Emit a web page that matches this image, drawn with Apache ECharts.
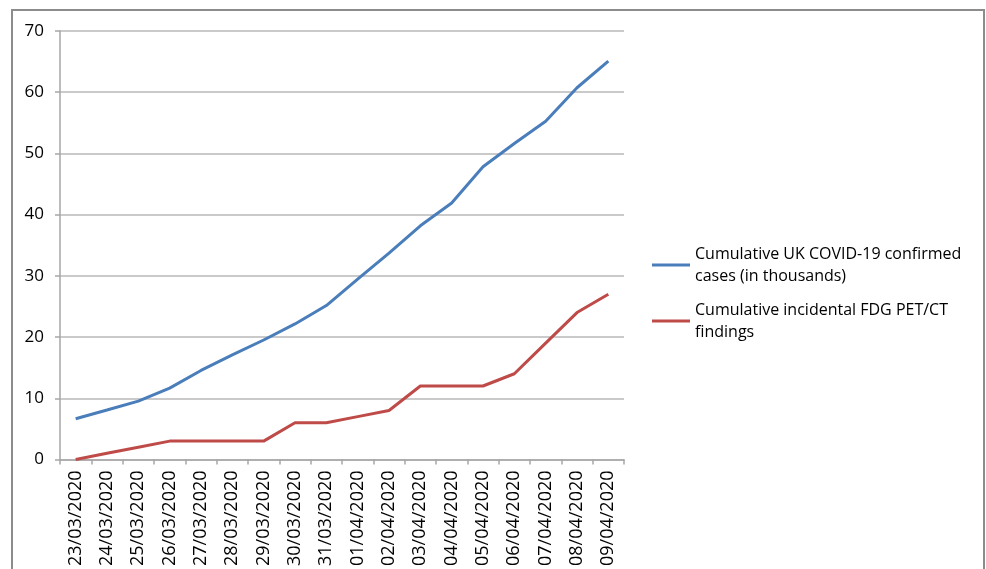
<!DOCTYPE html>
<html>
<head>
<meta charset="utf-8">
<title>UK COVID-19 cases vs incidental FDG PET/CT findings</title>
<script src="https://cdn.jsdelivr.net/npm/echarts@6/dist/echarts.min.js"></script>
<style>
  html, body { margin: 0; padding: 0; background: #ffffff; }
  #chart { width: 986px; height: 569px; }
</style>
</head>
<body>
<div id="chart"></div>
<script>
// Dates of the reporting period
var dates = [
  '23/03/2020', '24/03/2020', '25/03/2020', '26/03/2020', '27/03/2020', '28/03/2020',
  '29/03/2020', '30/03/2020', '31/03/2020', '01/04/2020', '02/04/2020', '03/04/2020',
  '04/04/2020', '05/04/2020', '06/04/2020', '07/04/2020', '08/04/2020', '09/04/2020'
];

// Cumulative UK confirmed cases, in thousands
var ukCases = [6.65, 8.08, 9.53, 11.66, 14.54, 17.09, 19.52, 22.14, 25.15,
               29.47, 33.72, 38.17, 41.90, 47.81, 51.61, 55.24, 60.73, 65.08];

// Cumulative incidental FDG PET/CT findings
var petFindings = [0, 1, 2, 3, 3, 3, 3, 6, 6, 7, 8, 12, 12, 12, 14, 19, 24, 27];

var seriesNames = [
  'Cumulative UK COVID-19 confirmed\ncases (in thousands)',
  'Cumulative incidental FDG PET/CT\nfindings'
];

var FONT = '"Open Sans", "Noto Sans", sans-serif';
var AXIS_GRAY = '#a6a6a6';

var chart = echarts.init(document.getElementById('chart'), null, { renderer: 'canvas' });

chart.setOption({
  animation: false,
  backgroundColor: '#ffffff',
  textStyle: { fontFamily: FONT, color: '#000000' },
  graphic: [{
    type: 'rect',
    shape: { x: 12, y: 10, width: 972, height: 620 },
    style: { fill: 'none', stroke: '#8c8c8c', lineWidth: 2 },
    silent: true
  }],
  grid: { left: 60, right: 362, top: 31, bottom: 109, containLabel: false },
  legend: {
    orient: 'vertical',
    left: 647,
    top: 227,
    itemWidth: 38,
    itemHeight: 3,
    itemGap: -10,
    icon: 'rect',
    textStyle: {
      fontFamily: FONT,
      fontSize: 16,
      color: '#000000',
      lineHeight: 22,
      padding: [22, 0, 0, 0]
    },
    data: seriesNames
  },
  xAxis: {
    type: 'category',
    data: dates,
    boundaryGap: true,
    axisLine: { lineStyle: { color: AXIS_GRAY, width: 1.5 } },
    axisTick: { show: true, alignWithLabel: false, length: 5, lineStyle: { color: AXIS_GRAY, width: 1.5 } },
    axisLabel: {
      rotate: 90,
      interval: 0,
      margin: 11,
      fontFamily: FONT,
      fontSize: 18,
      color: '#000000'
    },
    splitLine: { show: false }
  },
  yAxis: {
    type: 'value',
    min: 0,
    max: 70,
    interval: 10,
    axisLine: { show: true, lineStyle: { color: AXIS_GRAY, width: 1.5 } },
    axisTick: { show: true, length: 5, lineStyle: { color: AXIS_GRAY, width: 1.5 } },
    axisLabel: {
      margin: 16,
      fontFamily: FONT,
      fontSize: 17,
      color: '#000000'
    },
    splitLine: { show: true, lineStyle: { color: '#b8b8b8', width: 1.5 } }
  },
  series: [
    {
      name: seriesNames[0],
      type: 'line',
      data: ukCases,
      symbol: 'none',
      lineStyle: { color: '#4a7ebb', width: 3 },
      itemStyle: { color: '#4a7ebb' }
    },
    {
      name: seriesNames[1],
      type: 'line',
      data: petFindings,
      symbol: 'none',
      lineStyle: { color: '#be4b48', width: 3 },
      itemStyle: { color: '#be4b48' }
    }
  ]
});
</script>
</body>
</html>
